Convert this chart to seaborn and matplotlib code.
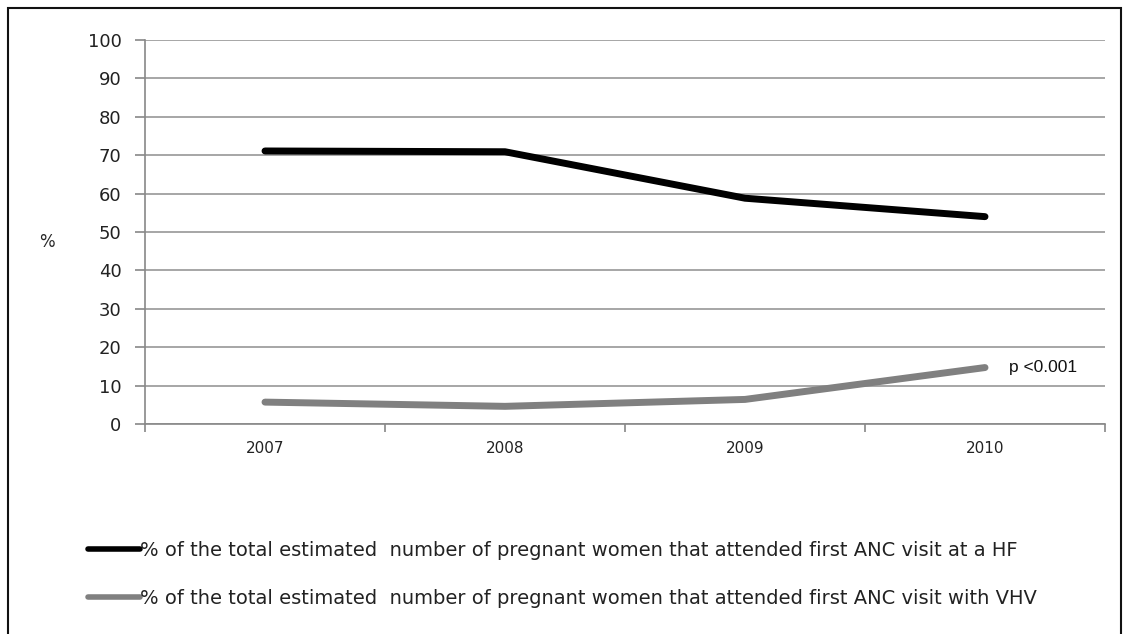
import numpy as np
import pandas as pd
import seaborn as sns
import matplotlib.pyplot as plt
from matplotlib.patches import Rectangle

years = ["2007", "2008", "2009", "2010"]
hf_values = [71.1, 70.9, 58.8, 54.0]
vhv_values = [5.7, 4.6, 6.4, 14.7]
series_names = [
    "% of the total estimated  number of pregnant women that attended first ANC visit at a HF",
    "% of the total estimated  number of pregnant women that attended first ANC visit with VHV",
]
y_ticks = list(range(0, 101, 10))

df = pd.DataFrame({
    "year": years * 2,
    "pct": hf_values + vhv_values,
    "series": [series_names[0]] * 4 + [series_names[1]] * 4,
})

sns.set_style("white")
plt.rcParams["font.family"] = ["DejaVu Sans"]

fig = plt.figure(figsize=(11.26, 6.34), dpi=100)
ax = fig.add_axes([145 / 1126, 1 - 424 / 634, 960 / 1126, 384 / 634])

sns.lineplot(data=df, x="year", y="pct", hue="series",
             palette=["#000000", "#808080"], linewidth=5,
             solid_capstyle="round", ax=ax, legend=True)

ax.set_xlim(-0.5, 3.5)
ax.set_ylim(0, 100)
ax.set_yticks(y_ticks)
ax.set_yticklabels([str(v) for v in y_ticks], fontsize=13, color="#222222")
ax.set_xticks(range(4))
ax.set_xticklabels(years, fontsize=11, color="#222222")
ax.set_xticks(np.arange(-0.5, 4, 1), minor=True)
ax.tick_params(axis="x", which="major", bottom=False, length=0, pad=12)
ax.tick_params(axis="x", which="minor", bottom=True, length=6, width=1.2,
               color="#888888", direction="out")
ax.tick_params(axis="y", left=True, length=7, width=1.2, color="#888888",
               direction="out", pad=10)
ax.yaxis.grid(True, color="#a6a6a6", linewidth=1.4)
ax.set_axisbelow(True)
for side in ["top", "right"]:
    ax.spines[side].set_visible(False)
for side in ["left", "bottom"]:
    ax.spines[side].set_color("#888888")
    ax.spines[side].set_linewidth(1.2)

ax.set_xlabel("")
ax.set_ylabel("%", rotation=0, fontsize=12, labelpad=0, va="center")
ax.yaxis.set_label_coords(-98 / 960, (424 - 242) / 384)

ax.text(3.1, vhv_values[3], "p <0.001", fontsize=12.5, family="Liberation Sans",
        va="center", ha="left", color="#111111")

handles, labels = ax.get_legend_handles_labels()
ax.get_legend().remove()
leg = fig.legend(handles, labels, loc="upper left", bbox_to_anchor=(70 / 1126, 1 - 523 / 634),
                 frameon=False, fontsize=14, handlelength=2.7, handletextpad=0.0,
                 labelspacing=1.5)
for line in leg.get_lines():
    line.set_linewidth(4)
for t in leg.get_texts():
    t.set_color("#222222")

fig.patches.append(Rectangle((8 / 1126, -0.05), 1113 / 1126, 1.05 - 8 / 634,
                             transform=fig.transFigure, fill=False,
                             edgecolor="#111111", linewidth=1.5))

fig.savefig("out.png", dpi=100)
